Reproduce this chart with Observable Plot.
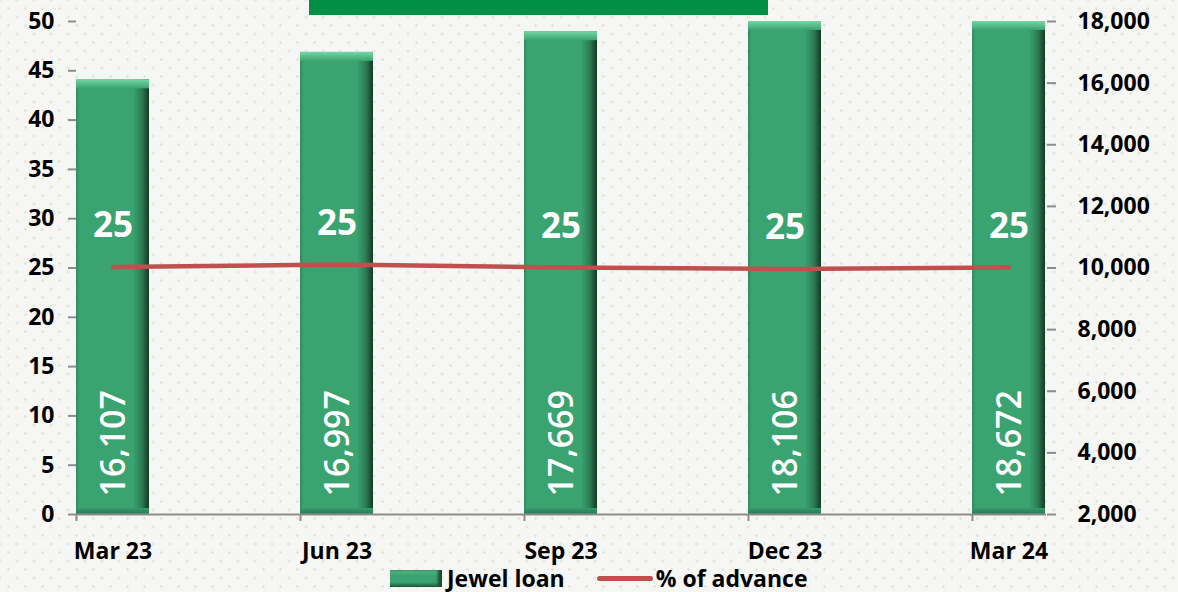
<!DOCTYPE html>
<html>
<head>
<meta charset="utf-8">
<script src="https://cdn.jsdelivr.net/npm/d3@7"></script>
<script src="https://cdn.jsdelivr.net/npm/@observablehq/plot@0.6"></script>
<style>
  html, body { margin: 0; padding: 0; }
  body {
    width: 1178px; height: 592px; overflow: hidden; position: relative;
    background-color: #f6f6f4;
    background-image: radial-gradient(circle, #e3e3d6 1.1px, transparent 1.5px), radial-gradient(circle, #e3e3d6 1.1px, transparent 1.5px);
    background-size: 17px 17px;
    background-position: 0 0, 8.5px 8.5px;
    font-family: "Open Sans", "DejaVu Sans", sans-serif;
  }
  #titlebar { position: absolute; left: 309px; top: 0; width: 459px; height: 15px; background: #008f45; }
  #chart { position: absolute; left: 0; top: 0; }
  #legend { position: absolute; left: 390px; top: 565px; height: 26px; line-height: 26px; display: flex; align-items: center; font-weight: 700; font-size: 23px; color: #000; }
  .sw-bar { width: 52px; height: 17px; background: linear-gradient(to bottom, #5cc08b 0%, #3aa370 30%, #3aa370 70%, #1f5f3f 100%); box-shadow: inset -4px 0 3px #1b4d33; }
  .sw-line { width: 56px; height: 5px; border-radius: 3px; background: #c0504d; }
</style>
</head>
<body>
<div id="titlebar"></div>
<div id="chart"></div>
<div id="legend">
  <div class="sw-bar"></div><span style="margin-left:5px">Jewel loan</span>
  <div class="sw-line" style="margin-left:32px"></div><span style="margin-left:3px">% of advance</span>
</div>
<script>
// ---- data ----
const periods = ["Mar 23", "Jun 23", "Sep 23", "Dec 23", "Mar 24"];
const jewelLoan = [16107, 16997, 17669, 18106, 18672];
const jewelLoanLabels = ["16,107", "16,997", "17,669", "18,106", "18,672"];
const advancePct = [25.1, 25.35, 25.05, 24.9, 25.05];
const advanceLabels = ["25", "25", "25", "25", "25"];
const leftTicks = [0, 5, 10, 15, 20, 25, 30, 35, 40, 45, 50];
const rightTicks = [2000, 4000, 6000, 8000, 10000, 12000, 14000, 16000, 18000];
const leftDomain = [0, 50];
const rightDomain = [2000, 18000];

// map right-axis values onto the left (percent) scale
const toLeft = v => leftDomain[0] + (v - rightDomain[0]) / (rightDomain[1] - rightDomain[0]) * (leftDomain[1] - leftDomain[0]);
const toRight = p => rightDomain[0] + (p - leftDomain[0]) / (leftDomain[1] - leftDomain[0]) * (rightDomain[1] - rightDomain[0]);

const rows = periods.map((p, i) => ({
  period: p,
  loan: jewelLoan[i],
  loanLabel: jewelLoanLabels[i],
  pct: advancePct[i],
  pctLabel: advanceLabels[i]
}));

const W = 1178, H = 560;
const mL = 76, mR = 132, mT = 21, mB = 46;
const padIn = 0.674;
const bandwidth = (W - mL - mR) * (1 - padIn) / (periods.length - padIn);

const axisColor = "#8c8c8c";
const font = "'Open Sans', 'DejaVu Sans', sans-serif";

const chart = Plot.plot({
  width: W, height: H,
  marginLeft: mL, marginRight: mR, marginTop: mT, marginBottom: mB,
  style: { background: "transparent", fontFamily: font, color: "#000", overflow: "visible" },
  x: { domain: periods, type: "band", paddingInner: padIn, paddingOuter: 0, axis: null },
  y: { domain: leftDomain, clamp: true, axis: null },
  marks: [
    Plot.rectY(rows, { x: "period", y1: () => toLeft(rightDomain[0]), y2: d => toLeft(d.loan), fill: "url(#barBody)" }),
    Plot.rectY(rows, { x: "period", y1: d => toLeft(d.loan), y2: d => toLeft(d.loan), insetBottom: -9, fill: "url(#barTop)" }),
    Plot.rectY(rows, { x: "period", y1: () => toLeft(rightDomain[0]), y2: () => toLeft(rightDomain[0]), insetTop: -6, fill: "url(#barBottom)" }),
    Plot.ruleY([leftDomain[0]], { stroke: axisColor, strokeWidth: 2 }),
    Plot.axisY(leftTicks, { anchor: "left", label: null, line: true, stroke: axisColor, strokeWidth: 2, fill: "#000", tickSize: 8, tickPadding: 14, fontSize: 23, fontWeight: 700 }),
    Plot.axisY(rightTicks.map(toLeft), { anchor: "right", label: null, line: true, stroke: axisColor, strokeWidth: 2, fill: "#000", tickSize: 9, tickPadding: 22, fontSize: 23, fontWeight: 700,
      tickFormat: d => d3.format(",")(Math.round(toRight(d))) }),
    Plot.axisX({ anchor: "bottom", label: null, tickSize: 7, stroke: axisColor, strokeWidth: 2, tickFormat: () => "", dx: -bandwidth / 2 }),
    Plot.axisX({ anchor: "bottom", label: null, tickSize: 0, tickPadding: 28, fill: "#000", fontSize: 23, fontWeight: 700 }),
    Plot.line(rows, { x: "period", y: "pct", stroke: "#c0504d", strokeWidth: 4.5, strokeLinecap: "round", strokeLinejoin: "round" }),
    Plot.text(rows, { x: "period", y: "pct", text: "pctLabel", dy: -41, fill: "white", fontSize: 35, fontWeight: 700, lineAnchor: "middle" }),
    Plot.text(rows, { x: "period", y: () => toLeft(rightDomain[0]), text: "loanLabel", rotate: -90, textAnchor: "start", lineAnchor: "middle", dy: -18, dx: 1, fill: "white", fontSize: 34, fontWeight: 600 })
  ]
});

const defs = d3.select(chart).insert("defs", ":first-child");
const gBody = defs.append("linearGradient").attr("id", "barBody").attr("x1", 0).attr("x2", 1).attr("y1", 0).attr("y2", 0);
[[0, "#2f8c5e"], [0.05, "#3aa370"], [0.78, "#3aa370"], [0.9, "#2b7d54"], [0.96, "#1d5439"], [1, "#143a27"]]
  .forEach(([o, c]) => gBody.append("stop").attr("offset", o).attr("stop-color", c));
const gTop = defs.append("linearGradient").attr("id", "barTop").attr("x1", 0).attr("x2", 0).attr("y1", 0).attr("y2", 1);
[[0, "#74d6a3"], [0.5, "#58bd89"], [1, "#3aa370"]]
  .forEach(([o, c]) => gTop.append("stop").attr("offset", o).attr("stop-color", c));
const gBot = defs.append("linearGradient").attr("id", "barBottom").attr("x1", 0).attr("x2", 0).attr("y1", 0).attr("y2", 1);
[[0, "#36996a"], [1, "#2a7d55"]]
  .forEach(([o, c]) => gBot.append("stop").attr("offset", o).attr("stop-color", c));

document.getElementById("chart").appendChild(chart);
</script>
</body>
</html>
